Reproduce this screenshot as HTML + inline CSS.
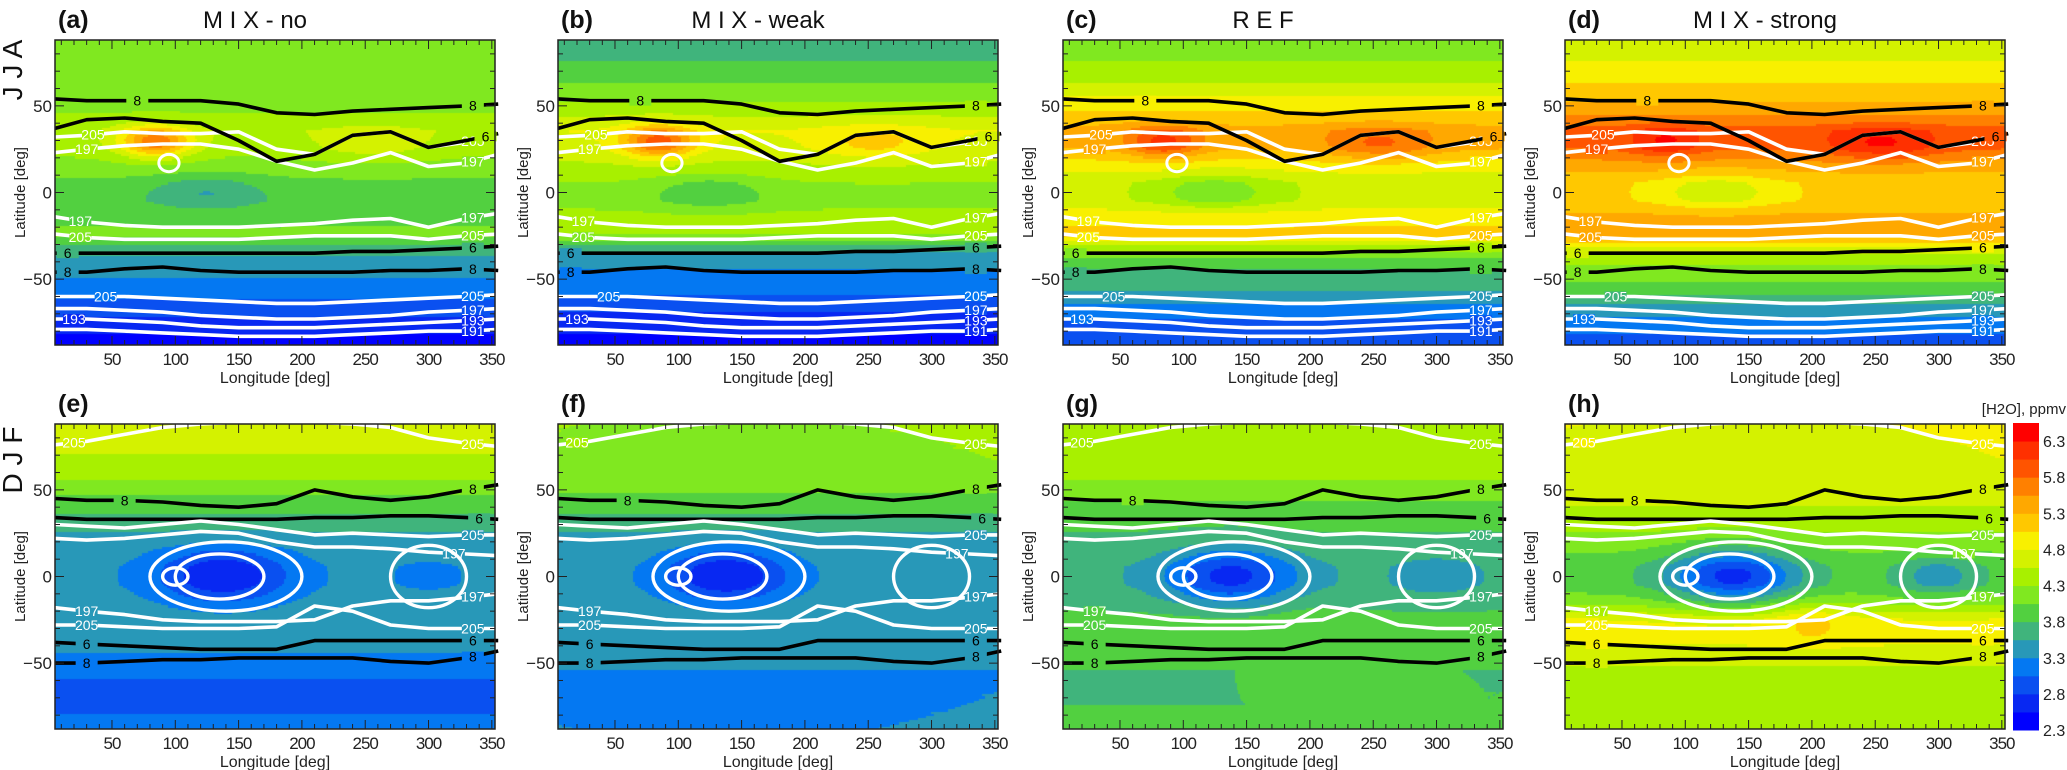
<!DOCTYPE html>
<html><head><meta charset="utf-8"><style>
html,body{margin:0;padding:0;background:#fff;width:2067px;height:770px;overflow:hidden;position:relative;font-family:"Liberation Sans",sans-serif}
canvas{position:absolute}
svg{position:absolute;left:0;top:0}
</style></head><body>
<div id="maps"></div>
<svg id="fig" width="2067" height="770"></svg>
<script>
// ---- data ----
const profileLats = [85,75,65,55,45,35,25,15,5,-5,-15,-25,-35,-45,-55,-65,-75,-85];
const profA = [4.1,4.1,4.1,4.1,4.3,4.5,4.4,4.2,4.0,3.9,4.0,4.1,3.6,3.4,3.2,3.0,2.7,2.5];
const profB = [3.7,3.8,4.0,4.2,4.5,4.8,4.7,4.5,4.3,4.2,4.4,4.3,3.5,3.3,3.2,2.9,2.7,2.5];
const profC = [4.2,4.3,4.5,4.8,5.1,5.4,5.3,4.9,4.6,4.6,5.0,5.1,4.2,3.8,3.6,3.3,3.0,2.8];
const profD = [4.7,4.8,5.0,5.2,5.5,5.9,5.8,5.4,5.1,5.1,5.4,5.4,4.6,4.2,4.0,3.5,3.2,3.0];
const profE = [4.6,4.6,4.5,4.3,4.0,3.8,3.55,3.4,3.35,3.35,3.4,3.45,3.5,3.3,3.1,3.0,3.0,3.1];
const profF = [4.3,4.3,4.3,4.2,4.0,3.8,3.55,3.45,3.4,3.4,3.45,3.5,3.5,3.4,3.3,3.3,3.3,3.3];
const profG = [4.4,4.4,4.4,4.3,4.1,3.9,3.8,3.7,3.6,3.6,3.7,3.9,4.0,3.9,3.8,3.8,3.8,3.9];
const profH = [4.8,4.8,4.8,4.8,4.6,4.5,4.3,4.1,3.9,3.9,4.2,4.8,4.9,4.7,4.5,4.4,4.4,4.5];
const jjaBlobLon = [85,125,255];
const jjaBlobLat = [29,0,28];
const blobAmpA = [1.3,-0.4,0.3];
const blobAmpB = [1.2,-0.4,0.4];
const blobAmpC = [0.8,-0.5,0.5];
const blobAmpD = [0.5,-0.5,0.5];
const djfBlobLon = [138,300,200];
const djfBlobLat = [0,0,-25];
const blobAmpE = [-0.8,-0.1,0];
const blobAmpF = [-0.85,-0.1,0];
const blobAmpG = [-0.9,-0.2,0.1];
const blobAmpH = [-1.2,-0.5,0.3];
const cLons = [5,30,60,90,120,150,180,210,240,270,300,330,355];
const jW205n = [32,33,35,34,34,35,25,22,33,35,26,29,32];
const jW197n = [23,25,27,28,28,25,18,13,17,23,15,17,22];
const jW197s = [-14,-17,-19,-20,-20,-20,-19,-18,-16,-15,-20,-15,-12];
const jW205s = [-24,-26,-27,-27,-27,-27,-26,-25,-25,-25,-27,-25,-24];
const jW205p = [-60,-60,-60,-61,-62,-63,-64,-64,-63,-62,-61,-60,-59];
const jW197p = [-67,-67,-68,-69,-71,-72,-73,-73,-72,-71,-69,-68,-67];
const jW193p = [-73,-73,-74,-75,-77,-78,-78,-78,-77,-76,-75,-74,-73];
const jW191p = [-79,-79,-80,-81,-82,-83,-83,-83,-82,-81,-80,-80,-79];
const jK8n = [54,53,53,53,53,51,46,45,47,48,49,50,51];
const jK6n = [37,42,43,41,40,30,18,22,33,35,26,30,34];
const jK6s = [-35,-35,-35,-35,-35,-35,-35,-35,-34,-34,-33,-32,-31];
const jK8s = [-46,-46,-44,-43,-45,-46,-46,-46,-46,-45,-45,-44,-45];
const dW205n = [76,78,82,86,88,89,89,89,88,86,80,77,75];
const dK8n = [45,44,44,43,41,40,42,50,46,44,46,50,53];
const dK6n = [34,33,33,33,33,33,33,34,34,35,35,34,33];
const dW205t = [30,29,28,30,32,30,27,24,25,24,23,24,24];
const dW197t = [22,21,22,24,26,25,20,17,17,16,14,13,12];
const dW197s = [-18,-20,-22,-25,-26,-26,-26,-25,-17,-14,-14,-12,-10];
const dW205s = [-28,-28,-29,-30,-30,-30,-29,-17,-20,-28,-30,-30,-30];
const dK6s = [-38,-39,-40,-41,-42,-42,-42,-37,-37,-37,-37,-37,-37];
const dK8s = [-50,-50,-49,-48,-48,-47,-47,-47,-47,-49,-50,-47,-43];
const ellLon = [140,135,100,300];
const ellLat = [0,0,0,0];
const ellDLon = [60,35,10,30];
const ellDLat = [20,13,5,18];
const lonTicks = [50,100,150,200,250,300,350];
const latTicks = [50,0,-50];
const cbTicks = [2.3,2.8,3.3,3.8,4.3,4.8,5.3,5.8,6.3];
const cbColors = ["#0000ff","#0828f2","#0a50f0","#0478f2","#2898b8","#40b47c","#52d040","#80e820","#a8f000","#d4f200","#f8f000","#ffc800","#ffa800","#ff8000","#ff5400","#ff3000","#ff0000"];
const panelLetters = ["a","b","c","d","e","f","g","h"];
const panelTitles = ["M I X - no","M I X - weak","R E F","M I X - strong","","","",""];
const profs = [profA,profB,profC,profD,profE,profF,profG,profH];
const amps = [blobAmpA,blobAmpB,blobAmpC,blobAmpD,blobAmpE,blobAmpF,blobAmpG,blobAmpH];

// ---- layout ----
const colX = [55,558,1063,1565];
const rowY = [40,424];
const PW = 440, PH = 305;
const LON0 = 5, LON1 = 352.5, LAT0 = 88, LAT1 = -88;
const NS = "http://www.w3.org/2000/svg";
const svg = document.getElementById('fig');
function mk(tag, attrs, parent){const e=document.createElementNS(NS,tag);for(const k in attrs)e.setAttribute(k,attrs[k]);(parent||svg).appendChild(e);return e;}
function xS(px,lon){return px+(lon-LON0)*PW/(LON1-LON0);}
function yS(py,lat){return py+(LAT0-lat)*PH/(LAT0-LAT1);}
function interpProf(p,lat){
  if(lat>=profileLats[0])return p[0];
  for(let i=0;i<profileLats.length-1;i++){
    if(lat<=profileLats[i]&&lat>=profileLats[i+1]){const t=(profileLats[i]-lat)/10;return p[i]*(1-t)+p[i+1]*t;}
  }
  return p[p.length-1];
}
function colorOf(v){let k=Math.floor((v-2.3)/0.25);k=Math.max(0,Math.min(cbColors.length-1,k));return cbColors[k];}

for(let p=0;p<8;p++){
  const px=colX[p%4], py=rowY[p<4?0:1];
  const jja=p<4;
  const bl= jja?jjaBlobLon:djfBlobLon, bt= jja?jjaBlobLat:djfBlobLat, ba=amps[p];
  const cv=document.createElement('canvas');
  cv.width=PW;cv.height=PH;cv.style.left=px+'px';cv.style.top=py+'px';
  
  
  document.getElementById('maps').appendChild(cv);
  const ctx=cv.getContext('2d');
  const st=1.25;
  for(let lon=LON0;lon<LON1;lon+=st){
    for(let lat=LAT0;lat>LAT1;lat-=st){
      const cl=lon+st/2, ct=lat-st/2;
      let v=interpProf(profs[p],ct);
      for(let b=0;b<bl.length;b++){
        const sx=jja?(b===0?28:45):(b===0?50:32), sy=jja?(b===0?9:10):(b===0?16:12);
        v+=ba[b]*Math.exp(-(((cl-bl[b])/sx)**2+((ct-bt[b])/sy)**2));
      }
      ctx.fillStyle=colorOf(v);
      const x0=xS(0,lon),y0=yS(0,lat);
      ctx.fillRect(Math.floor(x0),Math.floor(y0),Math.ceil(xS(0,lon+st)-x0)+1,Math.ceil(yS(0,lat-st)-y0)+1);
    }
  }
  const g=mk('g',{});
  
  
  function line(arr,col,lab,labLon){
    const pts=cLons.map((l,i)=>xS(px,l).toFixed(1)+','+yS(py,arr[i]).toFixed(1)).join(' ');
    const pl=mk('polyline',{points:pts,fill:'none',stroke:col,'stroke-width':3.6,'stroke-linejoin':'round'},g);
    
    
    const labs = labLon>=300 ? [labLon] : [labLon,335];
    labs.forEach(L=>{
      const i=Math.max(1,cLons.findIndex(c=>c>=L));
      const la=arr[i-1]+(arr[i]-arr[i-1])*((L-cLons[i-1])/(cLons[i]-cLons[i-1]));
      const bg=mk('rect',{x:xS(px,L)-11,y:yS(py,la)-5,width:22,height:10,fill:colorOf(interpProf(profs[p],la))},g);
      
      
      const t=mk('text',{x:xS(px,L),y:yS(py,la)+5,'font-size':14,fill:col,'text-anchor':'middle'},g);
      
      
      t.textContent=lab;
    });
  }
  if(jja){
    line(jW205n,'#fff','205',35);line(jW197n,'#fff','197',30);
    line(jW197s,'#fff','197',25);line(jW205s,'#fff','205',25);
    line(jW205p,'#fff','205',45);line(jW197p,'#fff','197',335);
    line(jW193p,'#fff','193',20);line(jW191p,'#fff','191',335);
    line(jK8n,'#000','8',70);line(jK6n,'#000','6',345);
    line(jK6s,'#000','6',15);line(jK8s,'#000','8',15);
    const e=mk('ellipse',{cx:xS(px,95),cy:yS(py,17),rx:8*PW/347.5,ry:5*PH/176,fill:'none',stroke:'#fff','stroke-width':3},g);
    
    
  } else {
    line(dW205n,'#fff','205',20);line(dK8n,'#000','8',60);line(dK6n,'#000','6',340);
    line(dW205t,'#fff','205',335);line(dW197t,'#fff','197',320);
    line(dW197s,'#fff','197',30);line(dW205s,'#fff','205',30);
    line(dK6s,'#000','6',30);line(dK8s,'#000','8',30);
    for(let k=0;k<ellLon.length;k++){
      const e=mk('ellipse',{cx:xS(px,ellLon[k]),cy:yS(py,ellLat[k]),rx:ellDLon[k]*PW/347.5,ry:ellDLat[k]*PH/176,fill:'none',stroke:'#fff','stroke-width':3.4},g);
      
      
    }
  }
  // frame + ticks
  const fr=mk('rect',{x:px,y:py,width:PW,height:PH,fill:'none',stroke:'#222','stroke-width':1.5},g);
  
  
  for(let lon=10;lon<=350;lon+=10){
    const x=xS(px,lon), L=(lon%50===0)?9:5;
    mk('line',{x1:x,y1:py,x2:x,y2:py+L,stroke:'#222','stroke-width':1},g);
    mk('line',{x1:x,y1:py+PH,x2:x,y2:py+PH-L,stroke:'#222','stroke-width':1},g);
  }
  for(let lat=-80;lat<=80;lat+=10){
    const y=yS(py,lat), L=(lat%50===0)?9:5;
    mk('line',{x1:px,y1:y,x2:px+L,y2:y,stroke:'#222','stroke-width':1},g);
    mk('line',{x1:px+PW,y1:y,x2:px+PW-L,y2:y,stroke:'#222','stroke-width':1},g);
  }
  lonTicks.forEach(v=>{
    const t=mk('text',{x:xS(px,v),y:py+PH+20,'font-size':17,fill:'#222','text-anchor':'middle','letter-spacing':-1},g);
    
    
    t.textContent=v;
  });
  latTicks.forEach(v=>{
    const t=mk('text',{x:px-3,y:yS(py,v)+6,'font-size':17,fill:'#222','text-anchor':'end'},g);
    
    
    t.textContent=v<0?'\u2212'+(-v):v;
  });
  const xt=mk('text',{x:px+PW/2,y:py+PH+38,'font-size':16,fill:'#222','text-anchor':'middle'},g);
  
  
  xt.textContent='Longitude [deg]';
  const yt=mk('text',{x:0,y:0,'font-size':15,fill:'#222','text-anchor':'middle',transform:`translate(${px-30},${py+PH/2}) rotate(-90)`},g);
  
  
  yt.textContent='Latitude [deg]';
  const pl=mk('text',{x:px+3,y:py-12,'font-size':25,'font-weight':'bold',fill:'#111'},g);
  
  
  pl.textContent='('+panelLetters[p]+')';
  if(panelTitles[p]){
    const tt=mk('text',{x:px+PW/2-20,y:py-12,'font-size':24,fill:'#111','text-anchor':'middle'},g);
    
    
    tt.textContent=panelTitles[p];
  }
}
// season labels
[['J J A',70],['D J F',460]].forEach(s=>{
  const t=mk('text',{x:0,y:0,'font-size':28,fill:'#111','text-anchor':'middle',transform:`translate(22,${s[1]}) rotate(-90)`});
  
  
  t.textContent=s[0];
});
// colorbar
const cbX=2013, cbTop=423, cbBot=730, cbW=26;
const cbg=mk('g',{});


const bandH=(cbBot-cbTop)/cbColors.length;
cbColors.forEach((c,i)=>{
  const r=mk('rect',{x:cbX,y:cbBot-(i+1)*bandH,width:cbW,height:bandH+0.5,fill:c},cbg);
  
  
});
function cbY(v){return cbBot-(v-2.3)*(bandH/0.25);}
cbTicks.forEach(v=>{
  const t=mk('text',{x:cbX+cbW+4,y:cbY(v)+6,'font-size':16,fill:'#222'},cbg);
  
  
  t.textContent=v.toFixed(1);
});
const cbt=mk('text',{x:2066,y:414,'font-size':15,fill:'#222','text-anchor':'end'},cbg);


cbt.textContent='[H2O], ppmv';
</script>
</body></html>
